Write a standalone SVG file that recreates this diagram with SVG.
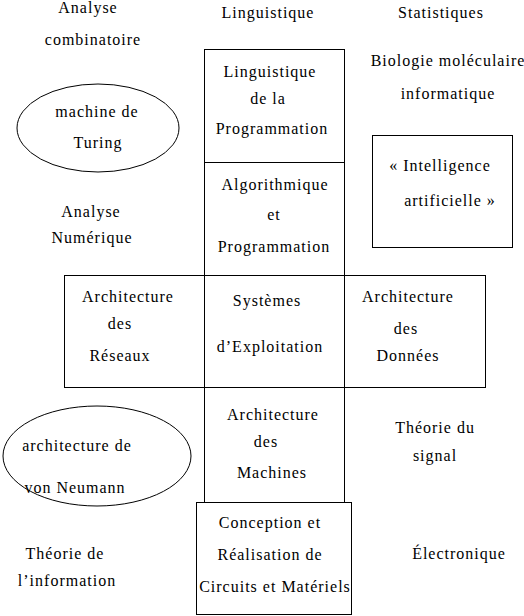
<svg xmlns="http://www.w3.org/2000/svg" width="524" height="616" viewBox="0 0 524 616">
<style>
text{font-family:"Liberation Serif","Times New Roman",serif;font-size:16px;letter-spacing:1px;fill:#000;text-anchor:middle}
.b{fill:none;stroke:#000;stroke-width:1}
</style>
<rect width="524" height="616" fill="#fff"/>
<g id="labels">
<text x="88" y="13">Analyse</text>
<text x="93" y="45">combinatoire</text>
<text x="268" y="18">Linguistique</text>
<text x="441" y="18">Statistiques</text>
<text x="448" y="66">Biologie moléculaire</text>
<text x="448" y="99">informatique</text>
<text x="91" y="217">Analyse</text>
<text x="92" y="243">Numérique</text>
<text x="435" y="433">Théorie du</text>
<text x="435" y="461">signal</text>
<text x="65" y="559">Théorie de</text>
<text x="67" y="586">l’information</text>
<text x="459" y="559">Électronique</text>
</g>
<g id="turing">
<ellipse class="b" cx="98" cy="128" rx="81" ry="44"/>
<text x="97" y="117">machine de</text>
<text x="98" y="148">Turing</text>
</g>
<g id="ia">
<rect class="b" x="372.5" y="135.5" width="140" height="112"/>
<text x="440" y="171">« Intelligence</text>
<text x="450" y="206">artificielle »</text>
</g>
<g id="ling-prog">
<rect class="b" x="204.5" y="49.5" width="140" height="113"/>
<text x="270" y="77">Linguistique</text>
<text x="268" y="104">de la</text>
<text x="272" y="134">Programmation</text>
</g>
<g id="algo">
<rect class="b" x="204.5" y="162.5" width="140" height="113"/>
<text x="275" y="190">Algorithmique</text>
<text x="274" y="220">et</text>
<text x="274" y="252">Programmation</text>
</g>
<g id="reseaux">
<rect class="b" x="64.5" y="275.5" width="140" height="112"/>
<text x="128" y="302">Architecture</text>
<text x="120" y="329">des</text>
<text x="120" y="361">Réseaux</text>
</g>
<g id="systemes">
<rect class="b" x="204.5" y="275.5" width="140" height="112"/>
<text x="267" y="306">Systèmes</text>
<text x="270" y="352">d’Exploitation</text>
</g>
<g id="donnees">
<rect class="b" x="344.5" y="275.5" width="141" height="112"/>
<text x="408" y="302">Architecture</text>
<text x="406" y="334">des</text>
<text x="408" y="361">Données</text>
</g>
<g id="machines">
<rect class="b" x="204.5" y="387.5" width="140" height="115"/>
<text x="273" y="420">Architecture</text>
<text x="266" y="447">des</text>
<text x="272" y="478">Machines</text>
</g>
<g id="circuits">
<rect class="b" x="196.5" y="502.5" width="155" height="112"/>
<text x="270" y="528">Conception et</text>
<text x="270" y="560">Réalisation de</text>
<text x="275" y="592">Circuits et Matériels</text>
</g>
<g id="neumann">
<ellipse class="b" cx="97" cy="456" rx="94" ry="50"/>
<text x="77" y="451">architecture de</text>
<text x="75" y="493">von Neumann</text>
</g>
<g id="connectors"></g>
</svg>
